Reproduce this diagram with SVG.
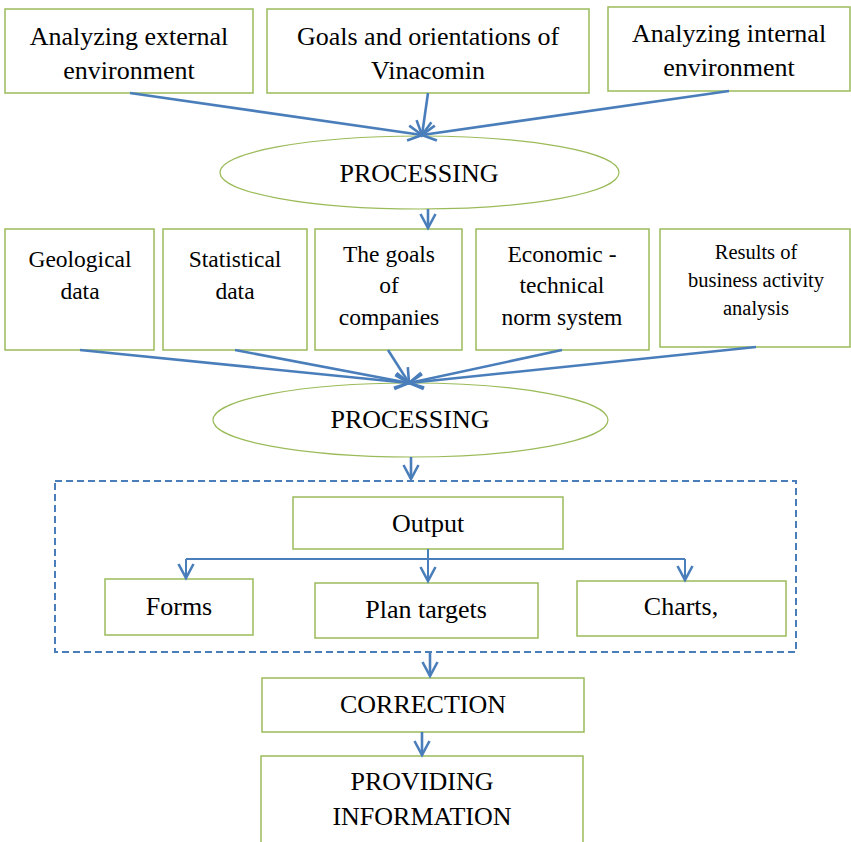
<svg xmlns="http://www.w3.org/2000/svg" width="851" height="842" viewBox="0 0 851 842">
  <style>
    .box { fill: #ffffff; stroke: #9bbb59; stroke-width: 1.5; }
    .oval { fill: #ffffff; stroke: #9bbb59; stroke-width: 1.2; }
    text { font-family: "Liberation Serif", "Times New Roman", serif; fill: #000000; text-anchor: middle; }
    .big { font-size: 26px; }
    .mid { font-size: 23.5px; }
    .small { font-size: 20.5px; }
    .flow { fill: none; stroke: #4a7ebb; stroke-width: 2.6; marker-end: url(#head); }
    .tree { fill: none; stroke: #4a7ebb; stroke-width: 2; }
    .treeArrow { fill: none; stroke: #4a7ebb; stroke-width: 2; marker-end: url(#head); }
    .frame { fill: none; stroke: #4a7ebb; stroke-width: 2; stroke-dasharray: 7 4; }
  </style>
  <defs>
    <marker id="head" markerUnits="userSpaceOnUse" markerWidth="20" markerHeight="20" viewBox="-16 -10 20 20" refX="0" refY="0" orient="auto">
      <path d="M-14,-7.5 L0,0 L-14,7.5" fill="none" stroke="#4a7ebb" stroke-width="2.6"/>
    </marker>
  </defs>

  <!-- dashed output frame -->
  <rect class="frame" x="55" y="481" width="741" height="171"/>

  <!-- sources -->
  <g id="external">
    <rect class="box" x="5" y="9" width="248" height="84"/>
    <text class="big" x="129" y="45">Analyzing external</text>
    <text class="big" x="129" y="79">environment</text>
  </g>
  <g id="goals-vinacomin">
    <rect class="box" x="267" y="9" width="322" height="84"/>
    <text class="big" x="428" y="45">Goals and orientations of</text>
    <text class="big" x="428" y="79">Vinacomin</text>
  </g>
  <g id="internal">
    <rect class="box" x="608" y="7" width="242" height="84"/>
    <text class="big" x="729" y="42">Analyzing internal</text>
    <text class="big" x="729" y="76">environment</text>
  </g>

  <g id="processing-1">
    <ellipse class="oval" cx="419.5" cy="172.5" rx="199.5" ry="36.5"/>
    <text class="big" x="419" y="182">PROCESSING</text>
  </g>

  <!-- inputs -->
  <g id="geological">
    <rect class="box" x="5" y="229" width="149" height="121"/>
    <text class="mid" x="80" y="267">Geological</text>
    <text class="mid" x="80" y="299">data</text>
  </g>
  <g id="statistical">
    <rect class="box" x="163" y="229" width="144" height="121"/>
    <text class="mid" x="235" y="267">Statistical</text>
    <text class="mid" x="235" y="299">data</text>
  </g>
  <g id="company-goals">
    <rect class="box" x="315" y="229" width="147" height="121"/>
    <text class="mid" x="389" y="262">The goals</text>
    <text class="mid" x="389" y="293">of</text>
    <text class="mid" x="389" y="325">companies</text>
  </g>
  <g id="norm-system">
    <rect class="box" x="476" y="229" width="173" height="121"/>
    <text class="mid" x="562" y="262">Economic -</text>
    <text class="mid" x="562" y="293">technical</text>
    <text class="mid" x="562" y="325">norm system</text>
  </g>
  <g id="activity-results">
    <rect class="box" x="660" y="229" width="190" height="118"/>
    <text class="small" x="756" y="259">Results of</text>
    <text class="small" x="756" y="287">business activity</text>
    <text class="small" x="756" y="315">analysis</text>
  </g>

  <g id="processing-2">
    <ellipse class="oval" cx="410.5" cy="420" rx="197.5" ry="37"/>
    <text class="big" x="410" y="428">PROCESSING</text>
  </g>

  <!-- output block -->
  <g id="output">
    <rect class="box" x="293" y="497" width="270" height="52"/>
    <text class="big" x="428" y="532">Output</text>
  </g>
  <g id="forms">
    <rect class="box" x="105" y="579" width="148" height="56"/>
    <text class="big" x="179" y="615">Forms</text>
  </g>
  <g id="plan-targets">
    <rect class="box" x="315" y="583" width="223" height="55"/>
    <text class="big" x="426" y="618">Plan targets</text>
  </g>
  <g id="charts">
    <rect class="box" x="577" y="581" width="209" height="55"/>
    <text class="big" x="681" y="615">Charts,</text>
  </g>

  <g id="correction">
    <rect class="box" x="262" y="678" width="322" height="54"/>
    <text class="big" x="423" y="713">CORRECTION</text>
  </g>
  <g id="providing">
    <rect class="box" x="261" y="756" width="322" height="100"/>
    <text class="big" x="422" y="790">PROVIDING</text>
    <text class="big" x="422" y="825">INFORMATION</text>
  </g>

  <!-- connectors -->
  <g id="connectors">
    <path class="flow" d="M130,93 L422,135"/>
    <path class="flow" d="M428,93 L422,135"/>
    <path class="flow" d="M729,91 L422,135"/>
    <path class="flow" d="M428,209 L428,228"/>

    <path class="flow" d="M80,350 L409,383"/>
    <path class="flow" d="M235,350 L409,383"/>
    <path class="flow" d="M388,350 L409,383"/>
    <path class="flow" d="M562,350 L409,383"/>
    <path class="flow" d="M756,347 L409,383"/>
    <path class="flow" d="M411,457 L411,479"/>

    <path class="tree" d="M428,549 L428,559 M186,559 L685,559"/>
    <path class="treeArrow" d="M186,559 L186,578"/>
    <path class="treeArrow" d="M428,559 L428,581"/>
    <path class="treeArrow" d="M685,559 L685,580"/>

    <path class="flow" d="M430,652 L430,676"/>
    <path class="flow" d="M422,732 L422,755"/>
  </g>
</svg>
